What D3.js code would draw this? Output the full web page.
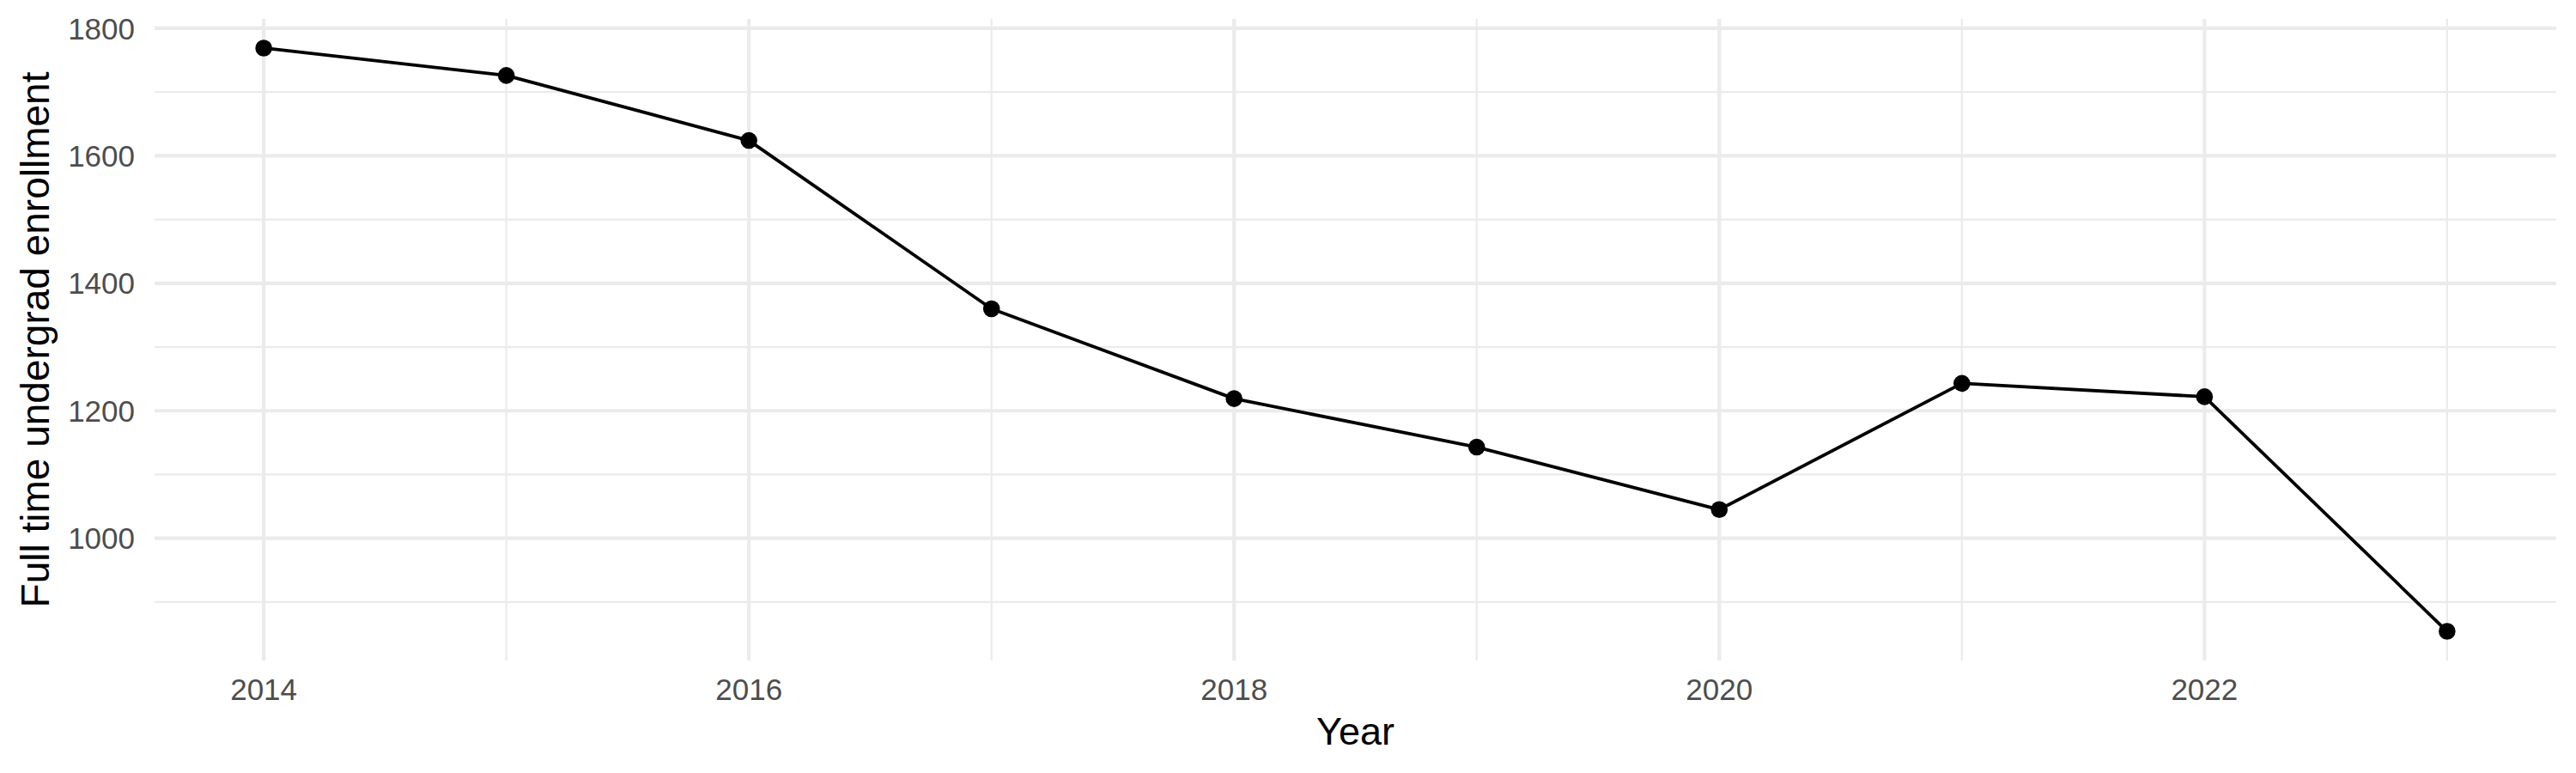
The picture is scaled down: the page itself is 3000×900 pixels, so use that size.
<!DOCTYPE html>
<html>
<head>
<meta charset="utf-8">
<script src="https://cdn.jsdelivr.net/npm/d3@7"></script>
<style>
  html, body { margin: 0; padding: 0; background: white; }
  svg { display: block; }
</style>
</head>
<body>
<div id="chart"></div>
<script>
  // data
  const years = [2014, 2015, 2016, 2017, 2018, 2019, 2020, 2021, 2022, 2023];
  const enrollment = [1769, 1726, 1624, 1360, 1219, 1143, 1045, 1243, 1222, 854];

  const xMajorTicks = [2014, 2016, 2018, 2020, 2022];
  const xMinorTicks = [2015, 2017, 2019, 2021, 2023];
  const yMajorTicks = [1000, 1200, 1400, 1600, 1800];
  const yMinorTicks = [900, 1100, 1300, 1500, 1700];

  const xTitle = 'Year';
  const yTitle = 'Full time undergrad enrollment';

  const
    width = 3000,
    height = 900,
    pad = { top: 22, right: 23, bottom: 131, left: 180 },
    gridColor = '#ebebeb',
    tickColor = '#4d4d4d',
    font = '"Liberation Sans", Arial, Helvetica, sans-serif';

  // ggplot style 5% expansion
  const xExt = d3.extent(years), xPad = (xExt[1] - xExt[0]) * 0.05;
  const yExt = d3.extent(enrollment), yPad = (yExt[1] - yExt[0]) * 0.05;

  const x = d3.scaleLinear()
    .domain([xExt[0] - xPad, xExt[1] + xPad])
    .range([pad.left, width - pad.right]);

  const y = d3.scaleLinear()
    .domain([yExt[0] - yPad, yExt[1] + yPad])
    .range([height - pad.bottom, pad.top]);

  const svg = d3.select('#chart')
    .append('svg')
    .attr('width', width)
    .attr('height', height)
    .style('font-family', font);

  const data = years.map(function (d, i) { return { key: d, value: enrollment[i] }; });

  // minor grid
  svg.append('g').selectAll('line')
    .data(yMinorTicks)
    .enter().append('line')
    .attr('x1', pad.left).attr('x2', width - pad.right)
    .attr('y1', function (d) { return y(d); }).attr('y2', function (d) { return y(d); })
    .attr('stroke', gridColor).attr('stroke-width', 2.2);

  svg.append('g').selectAll('line')
    .data(xMinorTicks)
    .enter().append('line')
    .attr('y1', pad.top).attr('y2', height - pad.bottom)
    .attr('x1', function (d) { return x(d); }).attr('x2', function (d) { return x(d); })
    .attr('stroke', gridColor).attr('stroke-width', 2.2);

  // major grid
  svg.append('g').selectAll('line')
    .data(yMajorTicks)
    .enter().append('line')
    .attr('x1', pad.left).attr('x2', width - pad.right)
    .attr('y1', function (d) { return y(d); }).attr('y2', function (d) { return y(d); })
    .attr('stroke', gridColor).attr('stroke-width', 4.2);

  svg.append('g').selectAll('line')
    .data(xMajorTicks)
    .enter().append('line')
    .attr('y1', pad.top).attr('y2', height - pad.bottom)
    .attr('x1', function (d) { return x(d); }).attr('x2', function (d) { return x(d); })
    .attr('stroke', gridColor).attr('stroke-width', 4.2);

  // tick labels
  svg.append('g').selectAll('text')
    .data(yMajorTicks)
    .enter().append('text')
    .attr('x', pad.left - 23)
    .attr('y', function (d) { return y(d); })
    .attr('dy', '0.36em')
    .attr('text-anchor', 'end')
    .attr('font-size', 35)
    .attr('fill', tickColor)
    .text(String);

  svg.append('g').selectAll('text')
    .data(xMajorTicks)
    .enter().append('text')
    .attr('x', function (d) { return x(d); })
    .attr('y', 815)
    .attr('text-anchor', 'middle')
    .attr('font-size', 35)
    .attr('fill', tickColor)
    .text(String);

  // axis titles
  svg.append('text')
    .attr('x', (pad.left + width - pad.right) / 2)
    .attr('y', 867)
    .attr('text-anchor', 'middle')
    .attr('font-size', 45)
    .attr('fill', 'black')
    .text(xTitle);

  svg.append('text')
    .attr('transform', 'translate(57,' + ((pad.top + height - pad.bottom) / 2) + ') rotate(-90)')
    .attr('text-anchor', 'middle')
    .attr('font-size', 46)
    .attr('fill', 'black')
    .text(yTitle);

  // line + points
  const line = d3.line()
    .x(function (d) { return x(d.key); })
    .y(function (d) { return y(d.value); });

  svg.append('path')
    .datum(data)
    .attr('fill', 'none')
    .attr('stroke', 'black')
    .attr('stroke-width', 3.8)
    .attr('stroke-linejoin', 'round')
    .attr('d', line);

  svg.append('g').selectAll('circle')
    .data(data)
    .enter().append('circle')
    .attr('cx', function (d) { return x(d.key); })
    .attr('cy', function (d) { return y(d.value); })
    .attr('r', 9.8)
    .attr('fill', 'black');
</script>
</body>
</html>
